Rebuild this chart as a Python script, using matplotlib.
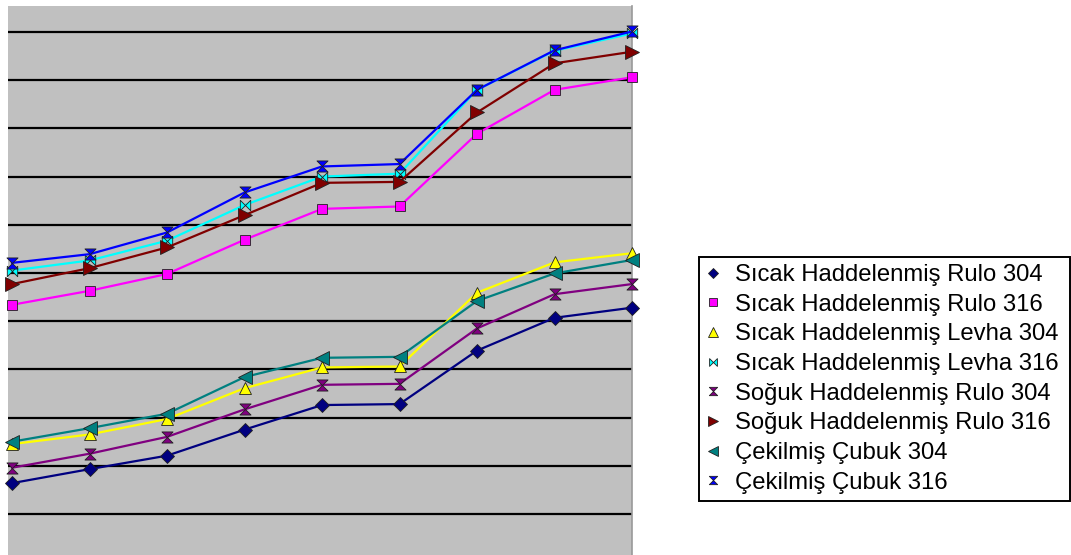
import numpy as np
import matplotlib.pyplot as plt
from matplotlib.path import Path

# periods (9 points along the x axis)
periods = list(range(9))

labels = [
    "Sıcak Haddelenmiş Rulo 304",
    "Sıcak Haddelenmiş Rulo 316",
    "Sıcak Haddelenmiş Levha 304",
    "Sıcak Haddelenmiş Levha 316",
    "Soğuk Haddelenmiş Rulo 304",
    "Soğuk Haddelenmiş Rulo 316",
    "Çekilmiş Çubuk 304",
    "Çekilmiş Çubuk 316",
]

shr_304 = [1.64, 1.93, 2.21, 2.75, 3.26, 3.28, 4.39, 5.07, 5.28]
shr_316 = [5.34, 5.63, 5.98, 6.69, 7.33, 7.38, 8.89, 9.80, 10.06]
shl_304 = [2.45, 2.65, 2.97, 3.61, 4.04, 4.06, 5.59, 6.22, 6.41]
shl_316 = [6.05, 6.26, 6.67, 7.41, 8.00, 8.06, 9.80, 10.61, 10.97]
sgr_304 = [1.96, 2.25, 2.60, 3.17, 3.68, 3.70, 4.85, 5.56, 5.77]
sgr_316 = [5.77, 6.10, 6.53, 7.20, 7.87, 7.89, 9.33, 10.35, 10.59]
cc_304 = [2.50, 2.78, 3.08, 3.84, 4.24, 4.26, 5.42, 5.99, 6.27]
cc_316 = [6.21, 6.39, 6.84, 7.67, 8.21, 8.26, 9.80, 10.62, 11.01]

series = [shr_304, shr_316, shl_304, shl_316, sgr_304, sgr_316, cc_304, cc_316]
colors = ["#000080", "#FF00FF", "#FFFF00", "#00FFFF",
          "#800080", "#800000", "#008080", "#0000FF"]

# hourglass / bowtie markers
hourglass = Path([(-1, 1), (1, 1), (-1, -1), (1, -1), (-1, 1)],
                 [Path.MOVETO, Path.LINETO, Path.LINETO, Path.LINETO, Path.CLOSEPOLY])
bowtie = Path([(-1, 1), (-1, -1), (1, 1), (1, -1), (-1, 1)],
              [Path.MOVETO, Path.LINETO, Path.LINETO, Path.LINETO, Path.CLOSEPOLY])
markers = ["D", "s", "^", bowtie, hourglass, ">", "<", hourglass]
sizes = [7, 7.2, 9, 7.5, 8, 9.5, 9.5, 8]

W, H = 1071, 555
fig = plt.figure(figsize=(W / 100, H / 100), dpi=100)
ax = fig.add_axes([8 / W, 0, (632 - 8) / W, 1 - 6 / H])
ax.set_facecolor("#C0C0C0")

for vals, lab, c, m, ms in zip(series, labels, colors, markers, sizes):
    ax.plot(periods, vals, color=c, lw=1.6, marker=m, ms=ms,
            markerfacecolor=c, markeredgecolor="#202020", markeredgewidth=0.6,
            label=lab, clip_on=False, zorder=3)

ax.set_xlim(-0.052, 8)
ax.set_ylim(0.149, 11.539)
ax.set_yticks(range(1, 12))
ax.set_xticks([])
ax.yaxis.grid(True, color="black", lw=1.6)
ax.set_axisbelow(True)
ax.tick_params(left=False, labelleft=False)
for side in ["left", "top", "bottom"]:
    ax.spines[side].set_visible(False)
ax.spines["right"].set_color("#999999")
ax.spines["right"].set_linewidth(1.2)

handles, labs = ax.get_legend_handles_labels()
leg = fig.legend(handles, labs, loc="upper left", mode="expand",
                 bbox_to_anchor=(699 / W, 1 - 257 / H - 0.01, (1070 - 699) / W, 0.01),
                 prop={"family": "Liberation Sans", "size": 17.2},
                 frameon=True, fancybox=False, framealpha=1,
                 edgecolor="black", markerscale=0.75, handlelength=0.545,
                 handletextpad=0.66, labelspacing=0.32, borderpad=0.3,
                 borderaxespad=0)
leg.get_frame().set_linewidth(1.4)
for h in leg.legend_handles:
    h.set_linestyle("none")

fig.savefig("out.png", dpi=100)
